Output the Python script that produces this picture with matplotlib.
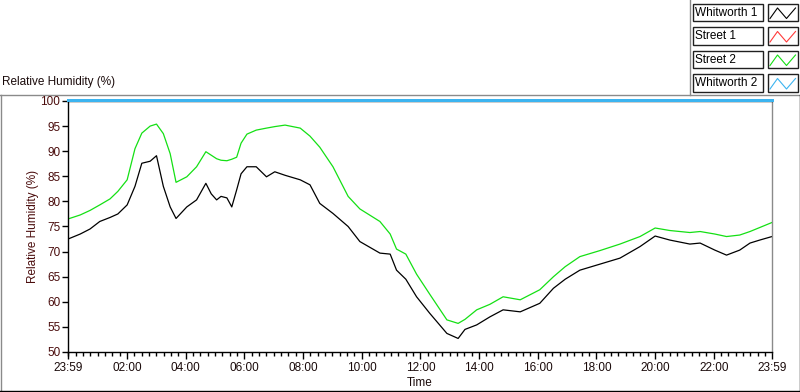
"""Relative humidity over one day, drawn in the style of a LabVIEW waveform chart."""

import matplotlib

matplotlib.use("Agg")
import matplotlib.pyplot as plt
import numpy as np
from matplotlib.patches import Rectangle
from matplotlib.transforms import offset_copy

plt.rcParams.update(
    {
        "font.family": ["Liberation Sans", "DejaVu Sans"],
        "font.size": 8.5,
    }
)

# --- data: minutes after 23:59 (start of the record) ------------------------
minutes = [
    0, 25, 45, 65, 86, 102, 121, 137, 151, 168, 181, 195, 209, 221, 243, 263,
    282, 293, 304, 313, 325, 335, 345, 354, 366, 385, 406, 423, 444, 475, 495,
    515, 542, 573, 597, 638, 659, 672, 691, 713, 740, 775, 798, 812, 836, 863,
    890, 925, 965, 993, 1017, 1047, 1088, 1129, 1170, 1201, 1231, 1272, 1293,
    1323, 1347, 1374, 1395, 1415, 1440,
]
whitworth1 = [
    72.5, 73.5, 74.5, 76.0, 76.8, 77.5, 79.3, 83.0, 87.6, 88.0, 89.1, 83.0,
    78.9, 76.6, 78.9, 80.3, 83.6, 81.5, 80.3, 81.0, 80.7, 78.9, 82.3, 85.5,
    86.9, 86.9, 84.9, 85.9, 85.2, 84.3, 83.3, 79.6, 77.6, 75.0, 72.0, 69.7,
    69.5, 66.3, 64.5, 61.0, 57.7, 53.7, 52.7, 54.5, 55.4, 57.0, 58.4, 58.0,
    59.7, 62.7, 64.5, 66.3, 67.5, 68.7, 71.0, 73.1, 72.3, 71.5, 71.7, 70.3,
    69.3, 70.3, 71.7, 72.3, 73.0,
]
street2 = [
    76.5, 77.3, 78.2, 79.3, 80.5, 82.0, 84.3, 90.5, 93.6, 95.0, 95.4, 93.5,
    89.5, 83.8, 84.9, 86.9, 89.9, 89.2, 88.5, 88.2, 88.1, 88.4, 88.8, 91.6,
    93.4, 94.2, 94.6, 94.9, 95.2, 94.6, 93.0, 90.8, 86.9, 81.0, 78.5, 76.0,
    73.5, 70.5, 69.5, 65.5, 61.5, 56.4, 55.7, 56.5, 58.4, 59.5, 61.0, 60.4,
    62.4, 65.0, 67.0, 69.0, 70.2, 71.5, 73.0, 74.7, 74.2, 73.8, 74.0, 73.5,
    73.0, 73.3, 74.0, 74.8, 75.8,
]
# Whitworth 2 sits pinned at the top of the scale; Street 1 is off-scale
whitworth2_minutes = [0, 1440]
whitworth2 = [100, 100]

series_names = ["Whitworth 1", "Street 1", "Street 2", "Whitworth 2"]
series_colors = ["#000000", "#ff3a3a", "#14e014", "#3cb4f0"]

xtick_minutes = [0, 121, 241, 361, 481, 601, 721, 841, 961, 1081, 1201, 1321, 1440]
xtick_labels = ["23:59", "02:00", "04:00", "06:00", "08:00", "10:00", "12:00",
                "14:00", "16:00", "18:00", "20:00", "22:00", "23:59"]
yticks = [50, 55, 60, 65, 70, 75, 80, 85, 90, 95, 100]

W, H = 800, 392
TEXT = "#1a0a0a"
YTEXT = "#4a0c0c"

fig = plt.figure(figsize=(W / 100, H / 100), dpi=100)

# overlay in pixel coordinates for the panel frame and the legend
ov = fig.add_axes([0, 0, 1, 1])
ov.set_xlim(0, W)
ov.set_ylim(H, 0)
ov.axis("off")

gray = "#8a8a8a"
ov.plot([0, W], [94.5, 94.5], color=gray, lw=1)
ov.plot([689.5, 689.5], [0, 94.5], color=gray, lw=1)
ov.plot([0.5, 0.5], [94.5, H], color=gray, lw=1)
ov.plot([799.5, 799.5], [94.5, H], color="black", lw=1)
ov.plot([0, W], [390.5, 390.5], color="black", lw=1)

ov.text(2, 82, "Relative Humidity (%)", ha="left", va="center", color=TEXT)

row_tops = [3.5, 27.0, 50.5, 74.0]
for name, col, top in zip(series_names, series_colors, row_tops):
    ov.add_patch(Rectangle((692.5, top), 70, 17.5, fill=False,
                           edgecolor="#202020", lw=1))
    ov.add_patch(Rectangle((767.5, top), 30, 17.5, fill=False,
                           edgecolor="#202020", lw=1))
    ov.text(695, top + 9, name, ha="left", va="center", color="black")
    gx = 767.5
    ov.plot([gx + 2.5, gx + 10, gx + 19, gx + 28],
            [top + 15, top + 4.5, top + 15, top + 4.5], color=col, lw=0.8)

# main chart
ax = fig.add_axes([68 / W, (H - 352) / H, 704 / W, 251 / H])
ax.set_facecolor("none")
ax.plot(minutes, whitworth1, color=series_colors[0], lw=0.9)
ax.plot(minutes, street2, color=series_colors[2], lw=0.9)
ax.plot(whitworth2_minutes, whitworth2, color=series_colors[3], lw=0.75,
        clip_on=False, zorder=5, antialiased=False,
        transform=offset_copy(ax.transData, fig=fig, x=0, y=1, units="dots"))

ax.set_xlim(0, 1440)
ax.set_ylim(50, 100)
ax.set_xticks(xtick_minutes)
ax.set_xticklabels(xtick_labels)
ax.set_xticks(np.arange(1, 1440, 15), minor=True)
ax.set_yticks(yticks)
ax.set_yticklabels([str(v) for v in yticks])

ax.tick_params(axis="x", which="major", direction="out", length=5, width=1,
               pad=2, labelcolor=TEXT, colors="black")
ax.tick_params(axis="x", which="minor", direction="out", length=3, width=1)
ax.tick_params(axis="y", which="major", direction="out", length=4, width=1,
               pad=1.5, labelcolor=YTEXT, colors="black")
ax.tick_params(axis="x", labelcolor=TEXT)

for side in ("left", "bottom", "top"):
    ax.spines[side].set_color("black")
    ax.spines[side].set_linewidth(1)
ax.spines["right"].set_color(gray)
ax.spines["right"].set_linewidth(1)

fig.text(33 / W, 1 - 226 / H, "Relative Humidity (%)", rotation=90,
         ha="center", va="center", color=YTEXT)
fig.text(420 / W, 1 - 383 / H, "Time", ha="center", va="center", color=TEXT)

fig.savefig("out.png", dpi=100)
